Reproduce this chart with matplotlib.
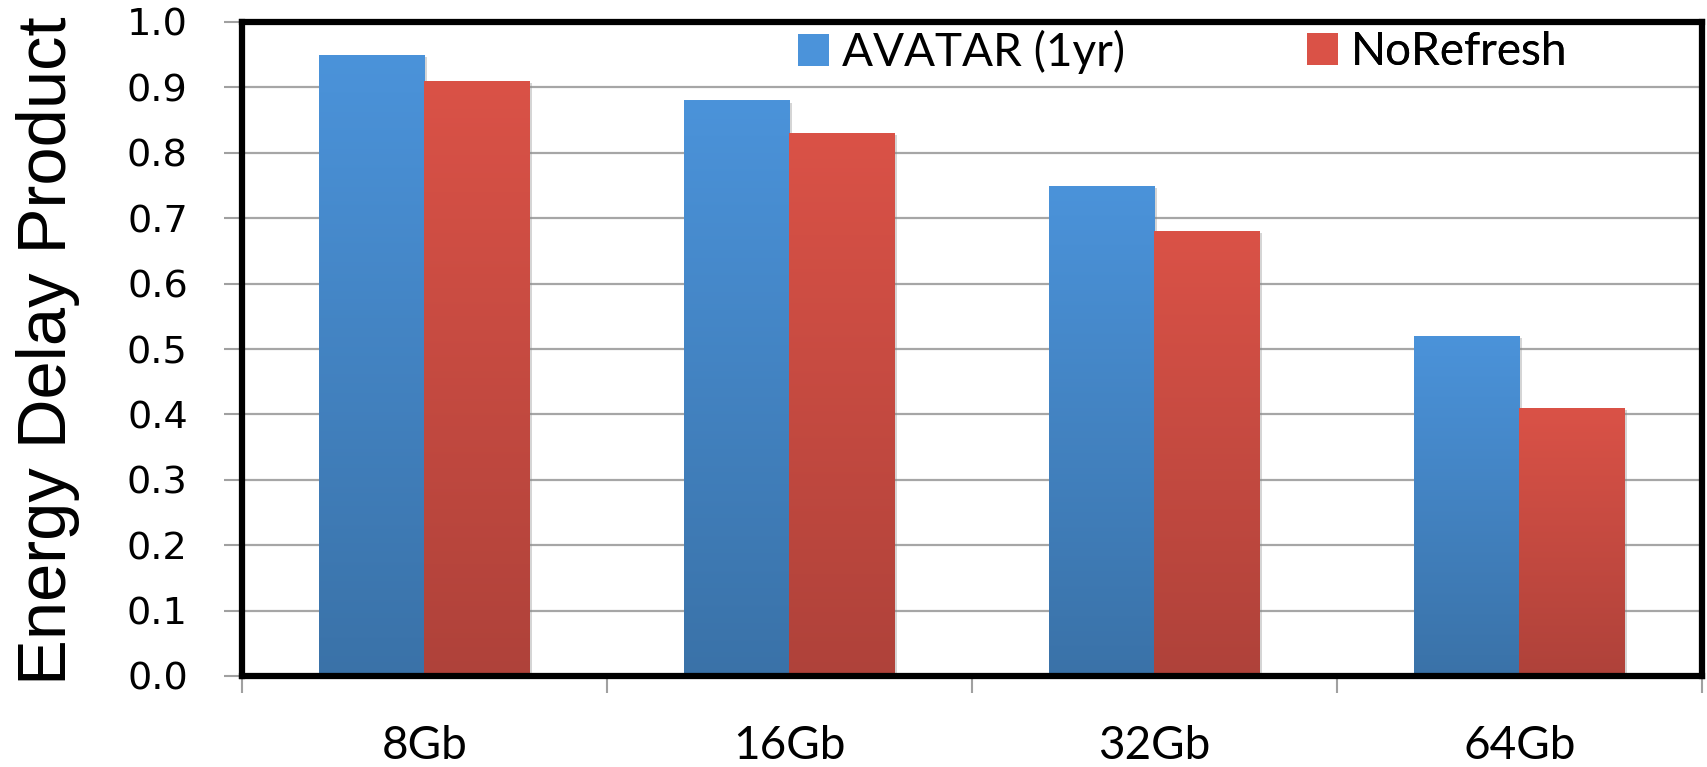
import numpy as np
import matplotlib
matplotlib.use('Agg')
import matplotlib.pyplot as plt
from matplotlib.colors import LinearSegmentedColormap
from matplotlib.patches import Patch
import matplotlib.patheffects as pe

categories = ['8Gb', '16Gb', '32Gb', '64Gb']
avatar = [0.95, 0.88, 0.75, 0.52]
norefresh = [0.91, 0.83, 0.68, 0.41]
series_names = ['AVATAR (1yr)', 'NoRefresh']
yticks = [0.0, 0.1, 0.2, 0.3, 0.4, 0.5, 0.6, 0.7, 0.8, 0.9, 1.0]
ylabel = 'Energy Delay Product'

blue_top, blue_bot = '#4B93DA', '#3A72A8'
red_top, red_bot = '#DA5247', '#AF423A'

W, H = 1708, 767
fig = plt.figure(figsize=(W / 100, H / 100), dpi=100)
ax = fig.add_axes([242 / W, 91 / H, 1460 / W, 654 / H])

x = np.arange(len(categories))
bw = 0.29
shadow = [pe.SimplePatchShadow(offset=(1.5, -1.5), shadow_rgbFace='#888888', alpha=0.35), pe.Normal()]
b1 = ax.bar(x - bw / 2, avatar, bw, color=blue_top, linewidth=0, zorder=3, path_effects=shadow)
b2 = ax.bar(x + bw / 2, norefresh, bw, color=red_top, linewidth=0, zorder=3, path_effects=shadow)

grad = np.linspace(0, 1, 256).reshape(-1, 1)
for bars, (ctop, cbot) in [(b1, (blue_top, blue_bot)), (b2, (red_top, red_bot))]:
    cmap = LinearSegmentedColormap.from_list('g', [cbot, ctop])
    for r in bars:
        x0, y0, w, h = r.get_x(), r.get_y(), r.get_width(), r.get_height()
        im = ax.imshow(grad, cmap=cmap, extent=[x0, x0 + w, y0, y0 + h], origin='lower',
                       aspect='auto', zorder=4, interpolation='bilinear')
        im.set_clip_path(r)

ax.set_xlim(-0.5, len(categories) - 0.5)
ax.set_ylim(0, 1.0)

# y axis
ax.set_yticks(yticks)
ax.set_yticklabels([f'{v:.1f}' for v in yticks], fontsize=27.5, family='DejaVu Sans')
ax.tick_params(axis='y', direction='out', length=13, width=1.5, color='#A0A0A0', pad=26)
ax.yaxis.grid(True, color='#A6A6A6', linewidth=1.6)
ax.set_axisbelow(True)

# x axis
ax.set_xticks(x)
ax.set_xticklabels(categories, fontsize=33, family='Lato')
ax.tick_params(axis='x', which='major', length=0, pad=35)
ax.set_xticks(np.arange(len(categories) + 1) - 0.5, minor=True)
ax.tick_params(axis='x', which='minor', direction='out', length=12, width=1.5, color='#A0A0A0')

for s in ax.spines.values():
    s.set_linewidth(4.5)
    s.set_color('black')
    s.set_zorder(6)

ax.set_ylabel(ylabel, fontsize=49.5, family='Liberation Sans')
ax.yaxis.set_label_coords((80 - 242) / 1460, 0.497)

# legends
cols = [blue_top, red_top]
anchors = [(798 - 242) / 1460, (1307 - 242) / 1460]
for name, c, ax_x in zip(series_names, cols, anchors):
    leg = ax.legend(handles=[Patch(facecolor=c, edgecolor='none', label=name)],
                    loc='center left', bbox_to_anchor=(ax_x, (676 - 52) / 654),
                    frameon=False, prop={'family': 'Lato', 'size': 33},
                    handlelength=0.68, handleheight=0.68, handletextpad=0.28,
                    borderpad=0, borderaxespad=0)
    leg.set_zorder(7)
    ax.add_artist(leg)

fig.savefig('out.png', dpi=100)
